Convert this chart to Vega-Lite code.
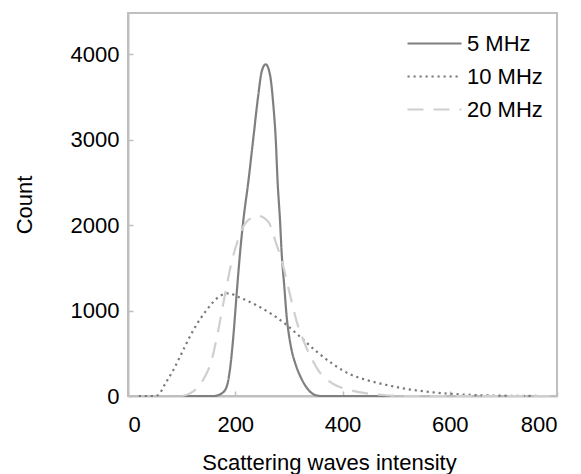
{
  "$schema": "https://vega.github.io/schema/vega-lite/v6.json",
  "width": 429,
  "height": 383,
  "autosize": {"type": "none"},
  "padding": {"left": 128, "top": 13, "right": 24, "bottom": 78},
  "background": "white",
  "config": {
    "font": "Liberation Sans",
    "view": {"stroke": "#bfbfbf", "strokeWidth": 2},
    "axis": {
      "grid": false,
      "domainColor": "#bfbfbf",
      "domainWidth": 2,
      "tickColor": "#bfbfbf",
      "tickWidth": 1.5,
      "tickSize": -5,
      "labelFont": "Liberation Sans",
      "labelFontSize": 22,
      "labelColor": "#000000",
      "titleFont": "Liberation Sans",
      "titleFontSize": 22,
      "titleFontWeight": "normal",
      "titleColor": "#000000"
    }
  },
  "data": {
    "values": [
      {"series": "5 MHz", "x": 100, "y": 0},
      {"series": "5 MHz", "x": 160, "y": 0},
      {"series": "5 MHz", "x": 175, "y": 31},
      {"series": "5 MHz", "x": 184, "y": 109},
      {"series": "5 MHz", "x": 190, "y": 304},
      {"series": "5 MHz", "x": 196.4, "y": 694},
      {"series": "5 MHz", "x": 202.7, "y": 1202},
      {"series": "5 MHz", "x": 208.9, "y": 1670},
      {"series": "5 MHz", "x": 215, "y": 2050},
      {"series": "5 MHz", "x": 224.4, "y": 2507},
      {"series": "5 MHz", "x": 233.7, "y": 3015},
      {"series": "5 MHz", "x": 243, "y": 3522},
      {"series": "5 MHz", "x": 249.3, "y": 3795},
      {"series": "5 MHz", "x": 256.8, "y": 3880},
      {"series": "5 MHz", "x": 264.8, "y": 3756},
      {"series": "5 MHz", "x": 271, "y": 3405},
      {"series": "5 MHz", "x": 275.4, "y": 3015},
      {"series": "5 MHz", "x": 279, "y": 2507},
      {"series": "5 MHz", "x": 283.5, "y": 2050},
      {"series": "5 MHz", "x": 286.6, "y": 1670},
      {"series": "5 MHz", "x": 291.5, "y": 1279},
      {"series": "5 MHz", "x": 296, "y": 920},
      {"series": "5 MHz", "x": 300, "y": 720},
      {"series": "5 MHz", "x": 305, "y": 540},
      {"series": "5 MHz", "x": 312, "y": 380},
      {"series": "5 MHz", "x": 321, "y": 235},
      {"series": "5 MHz", "x": 336, "y": 75},
      {"series": "5 MHz", "x": 349, "y": 12},
      {"series": "5 MHz", "x": 360, "y": 0},
      {"series": "5 MHz", "x": 490, "y": 0},
      {"series": "10 MHz", "x": 20, "y": 0},
      {"series": "10 MHz", "x": 50, "y": 0},
      {"series": "10 MHz", "x": 56, "y": 10},
      {"series": "10 MHz", "x": 70, "y": 150},
      {"series": "10 MHz", "x": 84.5, "y": 304},
      {"series": "10 MHz", "x": 103, "y": 538},
      {"series": "10 MHz", "x": 122, "y": 772},
      {"series": "10 MHz", "x": 146.7, "y": 1006},
      {"series": "10 MHz", "x": 171.6, "y": 1170},
      {"series": "10 MHz", "x": 187, "y": 1201},
      {"series": "10 MHz", "x": 209, "y": 1150},
      {"series": "10 MHz", "x": 240, "y": 1060},
      {"series": "10 MHz", "x": 271, "y": 945},
      {"series": "10 MHz", "x": 296, "y": 830},
      {"series": "10 MHz", "x": 320.7, "y": 694},
      {"series": "10 MHz", "x": 352, "y": 518},
      {"series": "10 MHz", "x": 383, "y": 370},
      {"series": "10 MHz", "x": 414, "y": 254},
      {"series": "10 MHz", "x": 445, "y": 187},
      {"series": "10 MHz", "x": 482, "y": 129},
      {"series": "10 MHz", "x": 520, "y": 82},
      {"series": "10 MHz", "x": 569, "y": 43},
      {"series": "10 MHz", "x": 632, "y": 15},
      {"series": "10 MHz", "x": 694, "y": 4},
      {"series": "10 MHz", "x": 780, "y": 0},
      {"series": "20 MHz", "x": 100, "y": 0},
      {"series": "20 MHz", "x": 115.6, "y": 31},
      {"series": "20 MHz", "x": 140, "y": 187},
      {"series": "20 MHz", "x": 156, "y": 421},
      {"series": "20 MHz", "x": 168, "y": 760},
      {"series": "20 MHz", "x": 181, "y": 1190},
      {"series": "20 MHz", "x": 193, "y": 1560},
      {"series": "20 MHz", "x": 206, "y": 1840},
      {"series": "20 MHz", "x": 221, "y": 2039},
      {"series": "20 MHz", "x": 243, "y": 2106},
      {"series": "20 MHz", "x": 261.6, "y": 2039},
      {"series": "20 MHz", "x": 275, "y": 1810},
      {"series": "20 MHz", "x": 289.6, "y": 1513},
      {"series": "20 MHz", "x": 303, "y": 1162},
      {"series": "20 MHz", "x": 314.6, "y": 870},
      {"series": "20 MHz", "x": 324, "y": 700},
      {"series": "20 MHz", "x": 333, "y": 560},
      {"series": "20 MHz", "x": 344, "y": 420},
      {"series": "20 MHz", "x": 355, "y": 300},
      {"series": "20 MHz", "x": 383, "y": 140},
      {"series": "20 MHz", "x": 414, "y": 70},
      {"series": "20 MHz", "x": 445, "y": 31},
      {"series": "20 MHz", "x": 476, "y": 12},
      {"series": "20 MHz", "x": 520, "y": 0},
      {"series": "20 MHz", "x": 800, "y": 0}
    ]
  },
  "mark": {"type": "line", "interpolate": "monotone", "strokeWidth": 2.2, "strokeCap": "butt"},
  "encoding": {
    "x": {
      "field": "x", "type": "quantitative",
      "scale": {"domain": [0, 800], "nice": false},
      "axis": {"values": [0, 200, 400, 600, 800], "format": "d", "labelPadding": 23, "title": "Scattering waves intensity", "titlePadding": 17, "titleX": 201}
    },
    "y": {
      "field": "y", "type": "quantitative",
      "scale": {"domain": [0, 4480], "nice": false},
      "axis": {"values": [0, 1000, 2000, 3000, 4000], "format": "d", "labelPadding": 14, "title": "Count", "titlePadding": 34}
    },
    "color": {
      "field": "series", "type": "nominal",
      "scale": {"domain": ["5 MHz", "10 MHz", "20 MHz"], "range": ["#7f7f7f", "#7a7a7a", "#cfcfcf"]},
      "legend": {
        "title": null,
        "orient": "none",
        "legendX": 278,
        "legendY": 14,
        "symbolType": "stroke",
        "symbolSize": 2916,
        "symbolStrokeWidth": 2.2,
        "labelFontSize": 22,
        "labelColor": "#000000",
        "labelFont": "Liberation Sans",
        "labelOffset": 4,
        "clipHeight": 33,
        "rowPadding": 0
      }
    },
    "strokeDash": {
      "field": "series", "type": "nominal",
      "scale": {"domain": ["5 MHz", "10 MHz", "20 MHz"], "range": [[1, 0], [2.2, 3.8], [16, 10]]},
      "legend": null
    }
  }
}
